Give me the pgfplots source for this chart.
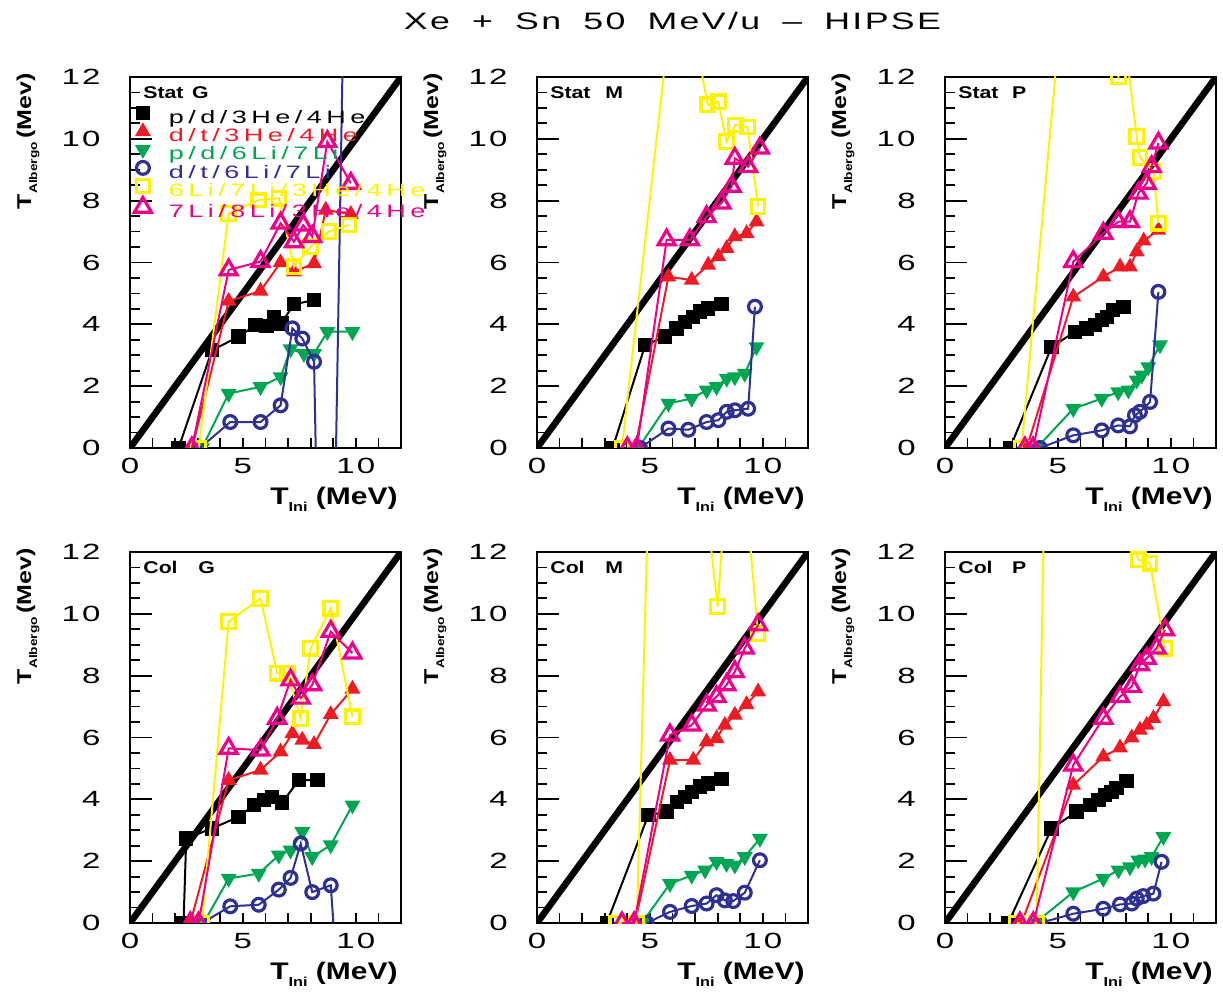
\documentclass[border=0pt]{standalone}
\usepackage{fontspec}
\usepackage{pgfplots}
\pgfplotsset{compat=1.18}
\setmainfont{Liberation Sans}
\newfontfamily\pawfont[FakeStretch=1.5,LetterSpace=10,WordSpace=1.8]{Liberation Sans}
\newfontfamily\legfont[FakeStretch=1.5,LetterSpace=25]{Liberation Sans}
\newfontfamily\labfont[FakeStretch=1.25]{Liberation Sans}

\definecolor{pRed}{RGB}{237,28,36}
\definecolor{pGreen}{RGB}{0,166,81}
\definecolor{pBlue}{RGB}{46,49,146}
\definecolor{pYellow}{RGB}{255,242,0}
\definecolor{pMag}{RGB}{236,0,140}

\pgfplotsset{
  pnl/.style={
    scale only axis, width=135.5bp, height=185.5bp,
    xmin=0, xmax=12, ymin=0, ymax=12,
    xtick={0,5,10}, minor xtick={0,1,...,12},
    ytick={0,2,...,12}, minor ytick={0,0.5,...,12},
    tick align=inside, tick pos=left,
    major tick length=11bp, minor tick length=5bp,
    major x tick style={draw=none},
    tick style={line width=0.9bp, black},
    axis line style={line width=1bp},
    clip marker paths=true,
    ticklabel style={font=\fontsize{11bp}{13bp}\pawfont},
    /pgf/number format/assume math mode=true,
    yticklabel style={anchor=east, inner sep=0pt, xshift=-14.5bp},
    xticklabel style={anchor=north, inner sep=0pt, yshift=-5bp},
    xlabel={\fontsize{12bp}{14bp}\labfont\bfseries T\raisebox{-0.3em}{\fontsize{6.5bp}{7bp}\selectfont Ini}\ (MeV)},
    xlabel style={at={(axis description cs:0.989,-0.1375)}, anchor=east, inner sep=0pt},
    ylabel={\fontsize{10bp}{12bp}\labfont\bfseries T\raisebox{-0.3em}{\fontsize{5.5bp}{6bp}\selectfont Albergo}\,(Mev)},
    ylabel style={at={(axis description cs:-0.3764,1.011)}, anchor=east, inner sep=0pt},
  },
  diag/.style={black, line width=3.3bp, no marks, forget plot},
  sK/.style={black, line width=1bp, mark=square*, mark size=3.1bp},
  sR/.style={pRed, line width=1bp, mark=triangle*, mark size=3.6bp},
  sG/.style={pGreen, line width=1bp, mark=triangle*, mark size=3.6bp, mark options={rotate=180}},
  sB/.style={pBlue, line width=1bp, mark=o, mark size=3.2bp, mark options={line width=1.6bp}},
  sY/.style={pYellow, line width=1bp, mark=square, mark size=3.4bp, mark options={line width=1.6bp}},
  sM/.style={pMag, line width=1bp, mark=triangle, mark size=4.9bp, mark options={line width=1.6bp}},
}
\newcommand{\tag}[3]{%
  \node[anchor=base west, inner sep=0pt, font=\fontsize{8.5bp}{10bp}\labfont\bfseries] at (axis description cs:0.048,0.9426) {#1};
  \node[anchor=base west, inner sep=0pt, font=\fontsize{8.5bp}{10bp}\labfont\bfseries] at (axis description cs:#3,0.9426) {#2};
}

\begin{document}
\begin{tikzpicture}
\path[use as bounding box] (0,0) rectangle (611.5bp,496bp);

% ---------------- Stat G
\begin{axis}[pnl, at={(65bp,272bp)}, anchor=south west,
  legend style={at={(axis description cs:-0.004,0.9216)}, anchor=north west,
    draw=none, fill=none, inner sep=0pt, outer sep=0pt, row sep=-2.2bp,
    font=\fontsize{9bp}{9.4bp}\legfont,
    nodes={inner sep=0pt, text height=6.6bp, text depth=2.8bp}},
  legend cell align=left,
  legend image code/.code={\path[draw=none,fill=none] (0bp,-2.8bp) rectangle (20bp,6.6bp);
    \draw[#1,only marks] plot coordinates {(7bp,3.2bp)};}]
\addplot[diag] coordinates {(0,0) (12,12)};
\addplot[sK] coordinates {(2.15,0) (3.63,3.16) (4.81,3.6) (5.56,3.97) (6.04,3.94) (6.37,4.24) (6.7,4.03) (7.26,4.65) (8.15,4.78)};
\addplot[sR] coordinates {(2.75,0) (4.37,4.75) (5.78,5.08) (6.67,6.0) (7.26,5.7) (8.15,5.97) (8.67,7.7) (9.78,7.56)};
\addplot[sG] coordinates {(3.19,0) (4.37,1.76) (5.78,1.98) (6.67,2.3) (7.11,3.2) (7.7,3.05) (8.15,3.05) (8.74,3.76) (9.85,3.76)};
\addplot[sB] coordinates {(3.1,0) (4.44,0.84) (5.78,0.84) (6.67,1.38) (7.19,3.87) (7.63,3.54) (8.15,2.79) (8.25,-1) (9.1,-1) (9.45,14)};
\addplot[sY] coordinates {(3.04,0) (4.37,7.59) (5.7,8.02) (6.6,8.08) (7.26,5.86) (8.0,6.51) (8.81,7.0) (9.7,7.21)};
\addplot[sM] coordinates {(2.74,0) (4.37,5.76) (5.78,6.03) (6.67,7.27) (7.26,6.67) (7.67,7.21) (8.07,6.84) (8.74,9.91) (9.78,8.56)};
\legend{\textcolor{black}{p/d/3He/4He}, \textcolor{pRed}{d/t/3He/4He}, \textcolor{pGreen}{p/d/6Li/7Li}, \textcolor{pBlue}{d/t/6Li/7Li}, \textcolor{pYellow}{6Li/7Li/3He/4He}, \textcolor{pMag}{7Li/8Li/3He/4He}}
\tag{Stat}{G}{0.228}
\end{axis}

% ---------------- Stat M
\begin{axis}[pnl, at={(268.5bp,272bp)}, anchor=south west]
\addplot[diag] coordinates {(0,0) (12,12)};
\addplot[sK] coordinates {(3.35,0) (4.79,3.33) (5.67,3.6) (6.18,3.87) (6.55,4.08) (6.92,4.24) (7.22,4.41) (7.58,4.51) (8.17,4.65)};
\addplot[sR] coordinates {(4.35,0) (5.82,5.54) (6.85,5.43) (7.58,5.92) (8.03,6.19) (8.4,6.46) (8.76,6.84) (9.28,6.94) (9.72,7.32)};
\addplot[sG] coordinates {(4.49,0) (5.82,1.44) (6.85,1.6) (7.51,1.87) (7.95,1.98) (8.4,2.25) (8.76,2.3) (9.2,2.41) (9.72,3.27)};
\addplot[sB] coordinates {(4.56,0) (5.82,0.63) (6.7,0.59) (7.51,0.84) (8.03,0.9) (8.4,1.17) (8.76,1.22) (9.35,1.27) (9.65,4.57)};
\addplot[sY] coordinates {(3.76,0) (6.25,16.2) (7.56,11.1) (8.03,11.2) (8.39,9.91) (8.79,10.45) (9.32,10.38) (9.79,7.81)};
\addplot[sM] coordinates {(4.0,0) (4.42,0) (5.74,6.73) (6.77,6.73) (7.51,7.48) (8.17,7.92) (8.62,8.46) (8.76,9.37) (9.35,9.1) (9.87,9.7)};
\tag{Stat}{M}{0.251}
\end{axis}

% ---------------- Stat P
\begin{axis}[pnl, at={(472.5bp,272bp)}, anchor=south west]
\addplot[diag] coordinates {(0,0) (12,12)};
\addplot[sK] coordinates {(2.88,0) (4.72,3.27) (5.76,3.76) (6.27,3.87) (6.64,3.97) (6.94,4.14) (7.16,4.24) (7.45,4.46) (7.9,4.57)};
\addplot[sR] coordinates {(3.62,0) (5.68,4.89) (7.01,5.54) (7.75,5.86) (8.19,5.86) (8.49,6.35) (8.8,6.7) (9.45,7.05)};
\addplot[sG] coordinates {(4.06,0) (5.68,1.27) (6.94,1.6) (7.67,1.81) (8.12,1.87) (8.49,2.19) (8.71,2.35) (9.0,2.62) (9.52,3.33)};
\addplot[sB] coordinates {(4.2,0) (5.68,0.41) (6.94,0.57) (7.67,0.73) (8.19,0.7) (8.41,1.06) (8.63,1.17) (9.08,1.49) (9.45,5.05)};
\addplot[sY] coordinates {(3.39,0) (5.5,17) (7.68,12.0) (7.82,14) (8.49,10.08) (8.63,9.4) (9.23,8.94) (9.45,7.27)};
\addplot[sM] coordinates {(3.54,0) (3.9,0) (5.68,6.03) (7.01,6.94) (7.67,7.32) (8.19,7.32) (8.56,8.24) (8.93,8.56) (9.15,9.1) (9.45,9.86)};
\tag{Stat}{P}{0.246}
\end{axis}

% ---------------- Col G
\begin{axis}[pnl, at={(65bp,34.5bp)}, anchor=south west]
\addplot[diag] coordinates {(0,0) (12,12)};
\addplot[sK] coordinates {(2.37,0) (2.49,2.73) (3.63,3.06) (4.81,3.43) (5.48,3.81) (5.93,3.97) (6.3,4.08) (6.74,3.9) (7.48,4.62) (8.3,4.62)};
\addplot[sR] coordinates {(2.67,0) (4.37,4.62) (5.78,4.95) (6.67,5.54) (7.19,6.13) (7.63,5.92) (8.15,5.78) (8.89,6.75) (9.85,7.57)};
\addplot[sG] coordinates {(3.26,0) (4.37,1.44) (5.7,1.6) (6.59,2.19) (7.11,2.35) (7.63,2.95) (8.07,2.14) (8.89,2.52) (9.85,3.81)};
\addplot[sB] coordinates {(3.19,0) (4.44,0.54) (5.7,0.59) (6.59,1.08) (7.11,1.46) (7.56,2.57) (8.07,1.0) (8.89,1.22) (9.1,-1)};
\addplot[sY] coordinates {(3.19,0) (4.37,9.75) (5.78,10.5) (6.52,8.08) (6.96,8.08) (7.56,6.62) (8.0,8.89) (8.89,10.18) (9.85,6.67)};
\addplot[sM] coordinates {(2.67,0) (3.04,0) (4.37,5.65) (5.78,5.59) (6.52,6.62) (7.11,7.86) (7.56,7.27) (8.07,7.7) (8.89,9.43) (9.85,8.73)};
\tag{Col}{G}{0.251}
\end{axis}

% ---------------- Col M
\begin{axis}[pnl, at={(268.5bp,34.5bp)}, anchor=south west]
\addplot[diag] coordinates {(0,0) (12,12)};
\addplot[sK] coordinates {(3.09,0) (4.93,3.49) (5.74,3.6) (6.19,3.92) (6.55,4.08) (6.85,4.24) (7.22,4.41) (7.58,4.51) (8.17,4.65)};
\addplot[sR] coordinates {(4.34,0) (5.89,5.27) (6.92,5.27) (7.51,5.86) (7.95,5.97) (8.32,6.4) (8.76,6.73) (9.28,7.07) (9.79,7.48)};
\addplot[sG] coordinates {(4.64,0) (5.89,1.27) (6.85,1.54) (7.44,1.71) (7.95,1.98) (8.39,1.92) (8.76,1.87) (9.2,2.14) (9.87,2.73)};
\addplot[sB] coordinates {(4.86,0) (5.89,0.36) (6.85,0.55) (7.51,0.63) (7.95,0.9) (8.32,0.73) (8.69,0.71) (9.2,0.98) (9.87,2.03)};
\addplot[sY] coordinates {(3.53,0) (4.42,0) (5.42,27) (8.0,10.24) (8.74,17.9) (9.79,9.37)};
\addplot[sM] coordinates {(3.76,0) (4.3,0) (5.89,6.08) (6.85,6.4) (7.51,7.05) (7.95,7.32) (8.39,7.7) (8.76,8.13) (9.2,8.89) (9.79,9.64)};
\tag{Col}{M}{0.251}
\end{axis}

% ---------------- Col P
\begin{axis}[pnl, at={(472.5bp,34.5bp)}, anchor=south west]
\addplot[diag] coordinates {(0,0) (12,12)};
\addplot[sK] coordinates {(2.8,0) (4.72,3.06) (5.83,3.6) (6.42,3.81) (6.79,3.97) (7.08,4.14) (7.38,4.24) (7.6,4.37) (8.04,4.59)};
\addplot[sR] coordinates {(3.39,0) (5.68,4.46) (7.01,5.38) (7.75,5.67) (8.27,5.99) (8.63,6.24) (8.93,6.4) (9.23,6.62) (9.67,7.16)};
\addplot[sG] coordinates {(3.99,0) (5.68,1.0) (7.01,1.44) (7.68,1.71) (8.19,1.81) (8.56,2.03) (8.86,2.06) (9.15,2.14) (9.67,2.79)};
\addplot[sB] coordinates {(4.2,0) (5.68,0.3) (7.01,0.46) (7.75,0.6) (8.27,0.63) (8.49,0.79) (8.78,0.87) (9.23,0.95) (9.59,1.98)};
\addplot[sY] coordinates {(3.17,0) (4.06,0) (4.6,22) (8.56,11.75) (9.08,11.64) (9.74,8.89)};
\addplot[sM] coordinates {(3.32,0) (3.91,0) (5.68,5.11) (7.01,6.62) (7.75,7.32) (8.27,7.65) (8.63,8.35) (8.93,8.56) (9.37,8.89) (9.74,9.48)};
\tag{Col}{P}{0.246}
\end{axis}

\node[anchor=base, inner sep=0pt, font=\fontsize{11.9bp}{14bp}\pawfont] at (336.25bp,481bp) {Xe + Sn 50 MeV/u – HIPSE};
\end{tikzpicture}
\end{document}
